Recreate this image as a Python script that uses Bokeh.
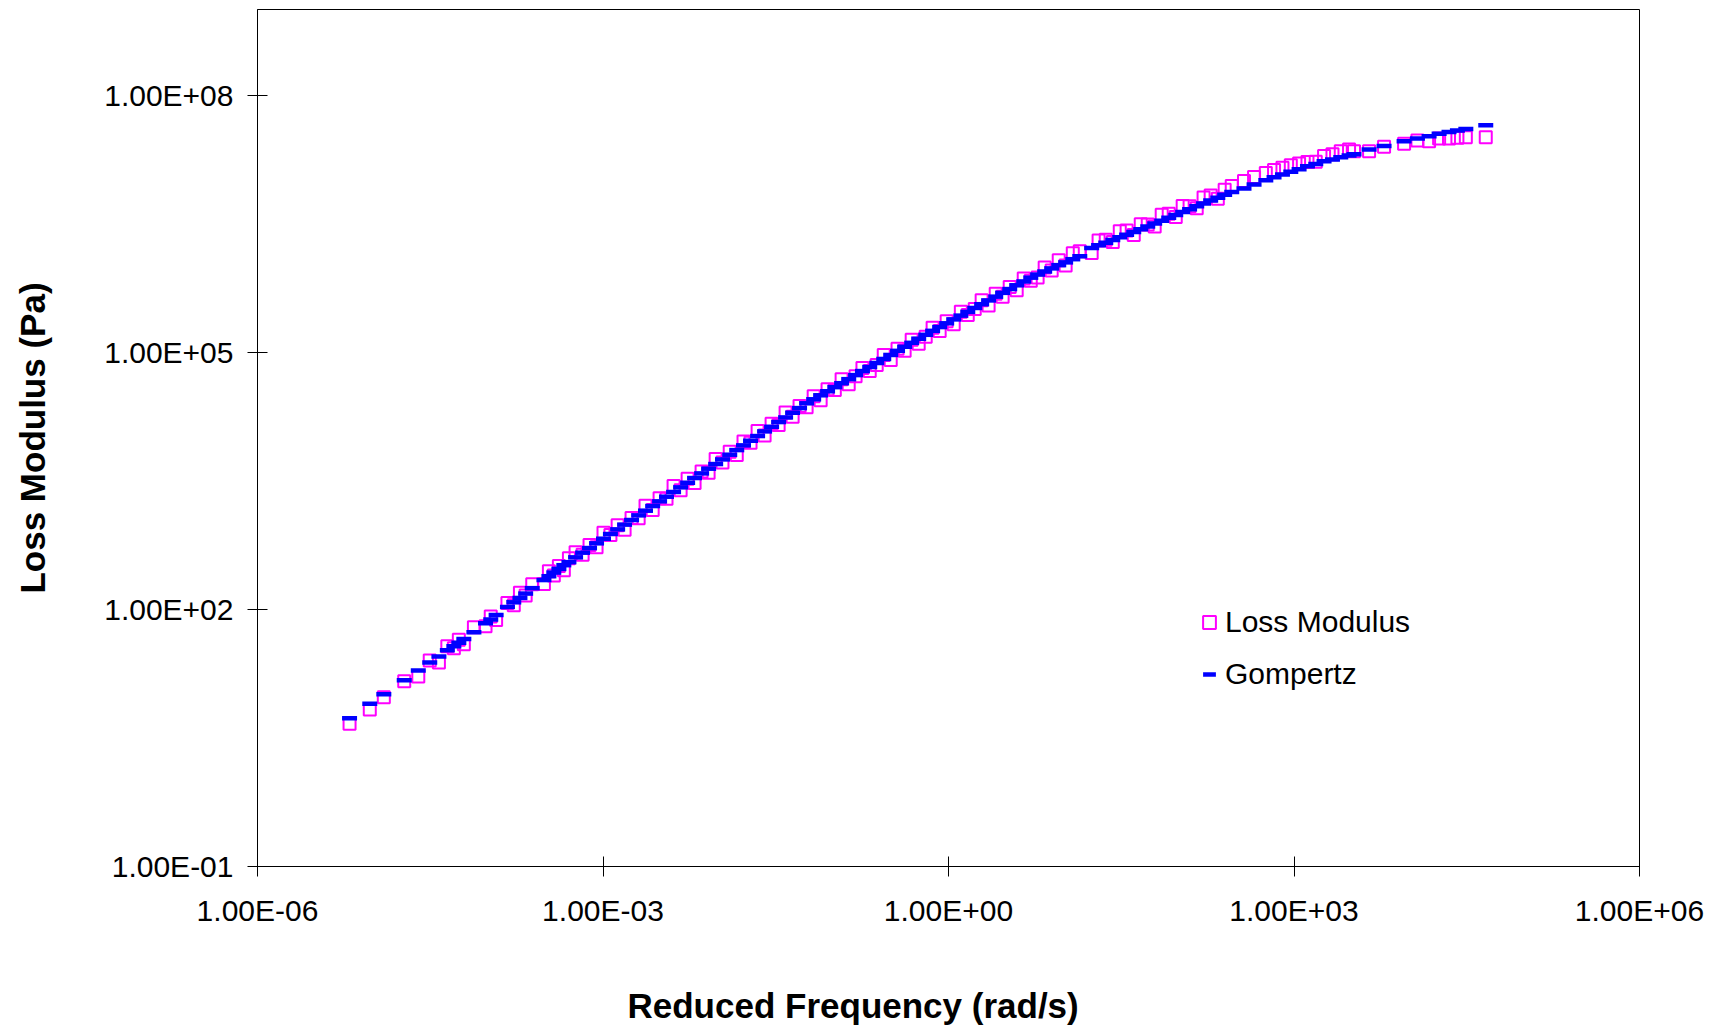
from bokeh.plotting import figure
from bokeh.models import (Range1d, FixedTicker, CustomJSTickFormatter, Legend,
                          LegendItem, Label, ColumnDataSource)
from bokeh.layouts import column
from bokeh.embed import file_html
from bokeh.resources import INLINE

FONT = "Liberation Sans"

# ---------------- data ----------------
freq = [
    6.30e-6, 9.44e-6, 1.25e-5, 1.88e-5, 2.49e-5, 3.13e-5, 3.76e-5, 4.45e-5, 5.07e-5, 5.60e-5,
    6.19e-5, 7.57e-5, 9.55e-5, 1.06e-4, 1.18e-4, 1.48e-4, 1.68e-4, 1.90e-4, 2.13e-4, 2.43e-4,
    3.07e-4, 3.39e-4, 3.74e-4, 4.14e-4, 4.57e-4, 5.06e-4,
    5.78e-4, 6.65e-4, 7.64e-4, 8.79e-4, 1.01e-3, 1.16e-3, 1.34e-3, 1.54e-3, 1.77e-3, 2.04e-3,
    2.34e-3, 2.70e-3, 3.10e-3, 3.56e-3, 4.10e-3, 4.72e-3, 5.43e-3, 6.24e-3, 7.18e-3, 8.26e-3,
    9.51e-3, 1.09e-2, 1.26e-2, 1.45e-2, 1.66e-2, 1.91e-2, 2.20e-2, 2.53e-2, 2.91e-2, 3.35e-2,
    3.85e-2, 4.43e-2, 5.09e-2,
    5.86e-2, 6.75e-2, 7.76e-2, 8.91e-2, 0.103, 0.118, 0.136, 0.156, 0.179, 0.207,
    0.238, 0.274, 0.315, 0.361, 0.416, 0.479, 0.551, 0.634, 0.728, 0.838,
    0.964, 1.11, 1.28, 1.47, 1.69, 1.94, 2.23, 2.57, 2.95, 3.40,
    3.91, 4.50, 5.18,
    5.94, 6.84, 7.87, 9.06, 10.4, 12.0, 13.8, 17.5, 20.1, 23.2,
    26.7, 30.7, 35.2, 40.6, 46.7, 53.7, 61.7, 71.0, 81.7, 94.0,
    108, 124, 143, 164, 189, 218, 250, 288,
    368, 450, 569, 671, 794, 938, 1107, 1309, 1545, 1824,
    2158, 2547, 3006, 3319, 4487, 6053, 9036, 11800, 14890, 18200,
    22180, 26240, 31050, 46240,
]

loss_modulus = [
    4.63, 6.80, 9.42, 14.5, 16.5, 25.3, 24.0, 37.1, 35.3, 44.3,
    39.3, 61.9, 63.6, 82.4, 75.1, 119, 112, 156, 145, 197,
    198, 279, 248, 322, 287, 396,
    463, 435, 564, 530, 785, 738, 956, 852, 1165, 1155,
    1623, 1443, 1976, 1958, 2754, 2451, 3346, 2982, 4077, 3938,
    5681, 5190, 6919, 6317, 9131, 8807, 12060, 10720, 14660, 14170,
    19880, 17710, 23570,
    2.28e4, 3.07e4, 2.75e4, 3.70e4, 3.62e4, 4.85e4, 4.25e4, 5.27e4, 6.55e4, 6.04e4,
    7.11e4, 9.30e4, 8.14e4, 1.10e5, 1.04e5, 1.40e5, 1.26e5, 1.52e5, 1.93e5, 1.77e5,
    2.30e5, 2.12e5, 2.98e5, 2.73e5, 3.20e5, 4.05e5, 3.52e5, 4.83e5, 4.44e5, 5.77e5,
    5.29e5, 7.27e5, 6.86e5,
    7.45e5, 9.76e5, 9.03e5, 1.19e6, 1.03e6, 1.43e6, 1.51e6, 1.44e6, 2.02e6, 2.06e6,
    1.94e6, 2.59e6, 2.63e6, 2.34e6, 3.11e6, 3.10e6, 2.94e6, 4.03e6, 4.13e6, 3.79e6,
    5.09e6, 5.06e6, 4.79e6, 6.40e6, 6.74e6, 6.18e6, 7.86e6, 8.71e6,
    9.95e6, 1.11e7, 1.24e7, 1.34e7, 1.42e7, 1.52e7, 1.60e7, 1.66e7, 1.67e7, 1.95e7,
    2.04e7, 2.22e7, 2.33e7, 2.22e7, 2.22e7, 2.50e7, 2.71e7, 2.97e7, 2.91e7, 3.13e7,
    3.13e7, 3.18e7, 3.24e7, 3.24e7,
]

gompertz = [
    5.38, 7.93, 10.2, 14.9, 19.4, 24.0, 28.2, 33.3, 37.2, 40.9,
    45.0, 54.1, 68.9, 76.0, 85.9, 107, 121, 136, 153, 177,
    220, 244, 269, 297, 328, 356,
    405, 459, 520, 590, 668, 758, 859, 975, 1104, 1251,
    1419, 1607, 1823, 2065, 2344, 2655, 3006, 3412, 3864, 4385,
    4966, 5623, 6383, 7228, 8204, 9290, 10540, 11940, 13520, 15350,
    17380, 19720, 22340,
    2.54e4, 2.83e4, 3.15e4, 3.51e4, 3.92e4, 4.36e4, 4.86e4, 5.42e4, 6.04e4, 6.73e4,
    7.50e4, 8.36e4, 9.31e4, 1.04e5, 1.16e5, 1.29e5, 1.44e5, 1.60e5, 1.78e5, 1.97e5,
    2.18e5, 2.42e5, 2.68e5, 2.96e5, 3.29e5, 3.64e5, 4.03e5, 4.46e5, 4.94e5, 5.47e5,
    6.05e5, 6.71e5, 7.43e5,
    8.07e5, 8.77e5, 9.53e5, 1.04e6, 1.12e6, 1.22e6, 1.32e6, 1.65e6, 1.77e6, 1.90e6,
    2.05e6, 2.20e6, 2.36e6, 2.54e6, 2.72e6, 2.94e6, 3.18e6, 3.43e6, 3.71e6, 4.00e6,
    4.33e6, 4.67e6, 5.05e6, 5.45e6, 5.89e6, 6.35e6, 6.87e6, 7.41e6,
    8.18e6, 9.10e6, 1.02e7, 1.10e7, 1.19e7, 1.28e7, 1.37e7, 1.48e7, 1.58e7, 1.70e7,
    1.78e7, 1.89e7, 1.98e7, 2.04e7, 2.33e7, 2.55e7, 2.91e7, 3.13e7, 3.33e7, 3.54e7,
    3.73e7, 3.88e7, 4.02e7, 4.47e7,
]

x_tick_values = [1e-6, 1e-3, 1e0, 1e3, 1e6]
x_tick_labels = ["1.00E-06", "1.00E-03", "1.00E+00", "1.00E+03", "1.00E+06"]
y_tick_values = [1e-1, 1e2, 1e5, 1e8]
y_tick_labels = ["1.00E-01", "1.00E+02", "1.00E+05", "1.00E+08"]

x_title = "Reduced Frequency (rad/s)"
y_title = "Loss Modulus (Pa)"
series_names = ["Loss Modulus", "Gompertz"]

# ---------------- main figure ----------------
p = figure(width=1706, height=960, x_axis_type="log", y_axis_type="log",
           x_range=Range1d(1e-6, 1e6), y_range=Range1d(1e-1, 1e9),
           output_backend="svg", toolbar_location=None,
           min_border_left=257, min_border_right=67,
           min_border_top=9, min_border_bottom=94)
p.background_fill_color = "white"
p.border_fill_color = "white"
p.outline_line_color = "black"
p.outline_line_width = 1
p.xgrid.visible = False
p.ygrid.visible = False

code = """
let best = -1, bd = 1e9;
for (let i = 0; i < vals.length; i++) {
  const d = Math.abs(Math.log10(vals[i]) - Math.log10(tick));
  if (d < bd) { bd = d; best = i; }
}
return bd < 1e-6 ? labs[best] : "";
"""
p.xaxis.ticker = FixedTicker(ticks=x_tick_values)
p.xaxis.formatter = CustomJSTickFormatter(args=dict(vals=x_tick_values, labs=x_tick_labels), code=code)
p.yaxis.ticker = FixedTicker(ticks=y_tick_values)
p.yaxis.formatter = CustomJSTickFormatter(args=dict(vals=y_tick_values, labs=y_tick_labels), code=code)

for ax in (p.xaxis[0], p.yaxis[0]):
    ax.major_tick_in = 10
    ax.major_tick_out = 10
    ax.minor_tick_in = 0
    ax.minor_tick_out = 0
    ax.axis_line_color = "black"
    ax.major_tick_line_color = "black"
    ax.major_label_text_font = FONT
    ax.major_label_text_font_size = "30px"
    ax.major_label_text_color = "black"

p.xaxis.major_label_standoff = 17
p.yaxis.major_label_standoff = 14

p.yaxis.axis_label = y_title
p.yaxis.axis_label_text_font = FONT
p.yaxis.axis_label_text_font_size = "35px"
p.yaxis.axis_label_text_font_style = "bold"
p.yaxis.axis_label_text_color = "black"
p.yaxis.axis_label_standoff = 49

src = ColumnDataSource(dict(f=freq, g=loss_modulus, fit=gompertz))
r_sq = p.scatter("f", "g", source=src, marker="square", size=12,
                 fill_color=None, line_color="#FF00FF", line_width=2)
r_dash = p.scatter("f", "fit", source=src, marker="dash", size=15,
                   line_color="#0000FF", line_width=4.5)

legend = Legend(items=[LegendItem(label=series_names[0], renderers=[r_sq]),
                       LegendItem(label=series_names[1], renderers=[r_dash])],
                location=(936, 175), glyph_width=32, glyph_height=32,
                label_height=32, label_standoff=0, spacing=18, padding=0,
                margin=0, border_line_color=None, background_fill_alpha=0,
                label_text_font=FONT, label_text_font_size="30px",
                label_text_color="black")
p.add_layout(legend)

# ---------------- strip holding the x-axis title ----------------
p2 = figure(width=1706, height=65, output_backend="svg", toolbar_location=None,
            x_axis_location=None, y_axis_location=None, min_border=0,
            x_range=Range1d(0, 1), y_range=Range1d(0, 1))
p2.outline_line_color = None
p2.xgrid.visible = False
p2.ygrid.visible = False
p2.background_fill_color = "white"
p2.border_fill_color = "white"
p2.add_layout(Label(x=370, y=20, x_units="screen", y_units="screen", text=x_title,
                    text_align="left", text_baseline="middle",
                    text_font=FONT, text_font_size="35px", text_font_style="bold",
                    text_color="black"))

layout = column(p, p2, spacing=0)
open("out.html", "w").write(file_html(layout, INLINE))
